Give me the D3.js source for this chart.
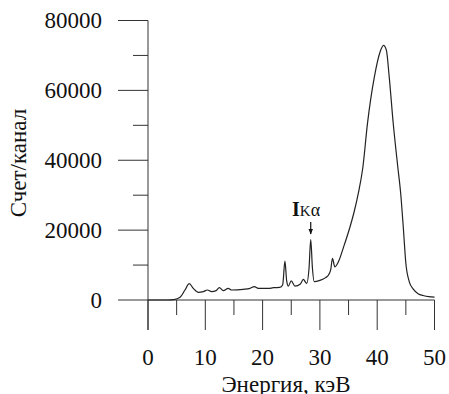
<!DOCTYPE html>
<html>
<head>
<meta charset="utf-8">
<script src="https://cdn.jsdelivr.net/npm/d3@7.9.0/dist/d3.min.js"></script>
<style>
  body { margin: 0; background: #fff; }
  svg { display: block; }
  text { font-family: "Liberation Serif", "Times New Roman", Times, serif; fill: #111; }
</style>
</head>
<body>
<svg id="chart" width="449" height="394"></svg>
<script>
// spectrum (energy in keV, counts per channel)
const energy = [0, 3.5, 4.5, 5.6, 6.45, 7.2, 7.9, 8.8, 9.65, 10.35, 11.1, 11.9, 12.45, 13.15, 14.0, 14.6,
  16.6, 17.8, 18.55, 19.25, 21.0, 21.9, 23.0, 23.5, 23.9, 24.2, 24.5, 25.0, 25.65, 26.6, 27.1, 27.7,
  28.1, 28.4, 28.7, 29.0, 30.0, 31.0, 31.5, 31.9, 32.2, 32.6, 33.3, 34.1, 35.25, 36.0, 36.7, 37.5,
  38.3, 39.5, 40.5, 41.1, 41.6, 42.1, 42.8, 43.6, 44.1, 44.55, 45.0, 45.6, 46.3, 47.2, 48.0, 49.0, 50.0];
const counts = [0, 0, 100, 760, 2860, 4700, 3340, 2190, 2380, 2860, 2380, 2670, 3520, 2670, 3340, 2860,
  3050, 3340, 3810, 3340, 3300, 3520, 3600, 4300, 11100, 5500, 4000, 5500, 4000, 4600, 5900, 4760,
  9000, 17300, 9000, 5240, 5600, 6400, 7140, 8800, 11900, 9500, 11200, 15000, 20900, 25400, 30500, 38000,
  50500, 63800, 71000, 72900, 71500, 63800, 50500, 38000, 30500, 20900, 10500, 5200, 3100, 1700, 1300, 950, 800];

const xTicks = [0, 10, 20, 30, 40, 50];
const xMinorTicks = [5, 15, 25, 35, 45];
const yTicks = [0, 20000, 40000, 60000, 80000];
const yMinorTicks = [10000, 30000, 50000, 70000];

const svg = d3.select('#chart');

const x = d3.scaleLinear().domain([0, 50]).range([148, 434.5]);
const y = d3.scaleLinear().domain([0, 80000]).range([300, 20.5]);

const axisColor = '#333';

// y axis: vertical line runs down past zero like the x ticks
svg.append('line')
  .attr('x1', x(0)).attr('x2', x(0))
  .attr('y1', y(80000)).attr('y2', y(0) + 30)
  .attr('stroke', axisColor).attr('stroke-width', 1);

// x axis line
svg.append('line')
  .attr('x1', x(0)).attr('x2', x(50))
  .attr('y1', y(0)).attr('y2', y(0))
  .attr('stroke', axisColor).attr('stroke-width', 1);

const gy = svg.append('g');
gy.selectAll('line.major').data(yTicks).enter().append('line')
  .attr('x1', x(0) - 30).attr('x2', x(0))
  .attr('y1', d => y(d)).attr('y2', d => y(d))
  .attr('stroke', axisColor);
gy.selectAll('line.minor').data(yMinorTicks).enter().append('line')
  .attr('x1', x(0) - 15).attr('x2', x(0))
  .attr('y1', d => y(d)).attr('y2', d => y(d))
  .attr('stroke', axisColor);
gy.selectAll('text').data(yTicks).enter().append('text')
  .attr('x', 102).attr('y', d => y(d)).attr('dy', '0.34em')
  .attr('text-anchor', 'end')
  .style('font-size', '23px')
  .text(d => d);

const gx = svg.append('g');
gx.selectAll('line.major').data(xTicks).enter().append('line')
  .attr('x1', d => x(d)).attr('x2', d => x(d))
  .attr('y1', y(0)).attr('y2', y(0) + 30)
  .attr('stroke', axisColor);
gx.selectAll('line.minor').data(xMinorTicks).enter().append('line')
  .attr('x1', d => x(d)).attr('x2', d => x(d))
  .attr('y1', y(0)).attr('y2', y(0) + 15)
  .attr('stroke', axisColor);
gx.selectAll('text').data(xTicks).enter().append('text')
  .attr('x', d => x(d)).attr('y', 365)
  .attr('text-anchor', 'middle')
  .style('font-size', '23px')
  .text(d => d);

// axis titles
svg.append('text')
  .attr('x', 286).attr('y', 392)
  .attr('text-anchor', 'middle')
  .style('font-size', '23px')
  .text('Энергия, кэВ');

svg.append('text')
  .attr('transform', 'translate(26,163) rotate(-90)')
  .attr('text-anchor', 'middle')
  .style('font-size', '23px')
  .text('Счет/канал');

// spectrum
const pts = energy.map((e, i) => [e, counts[i]]);
const line = d3.line()
  .x(d => x(d[0]))
  .y(d => y(d[1]))
  .curve(d3.curveMonotoneX);

svg.append('path')
  .datum(pts)
  .attr('d', line)
  .attr('fill', 'none')
  .attr('stroke', '#222')
  .attr('stroke-width', 1.2);

// I K-alpha annotation
const label = svg.append('text')
  .attr('x', 292).attr('y', 216)
  .attr('text-anchor', 'start');
label.append('tspan').style('font-weight', 'bold').style('font-size', '20px').text('I');
label.append('tspan').style('font-size', '15px').text('K');
label.append('tspan').style('font-size', '18px').text('α');

svg.append('defs').append('marker')
  .attr('id', 'arrow')
  .attr('viewBox', '0 0 10 10')
  .attr('refX', 9).attr('refY', 5)
  .attr('markerWidth', 5).attr('markerHeight', 5)
  .attr('orient', 'auto')
  .append('path').attr('d', 'M0,1 L10,5 L0,9 Z').attr('fill', '#111');

svg.append('line')
  .attr('x1', x(28.4)).attr('x2', x(28.4))
  .attr('y1', 222).attr('y2', 234)
  .attr('stroke', '#111').attr('stroke-width', 1.2)
  .attr('marker-end', 'url(#arrow)');
</script>
</body>
</html>
